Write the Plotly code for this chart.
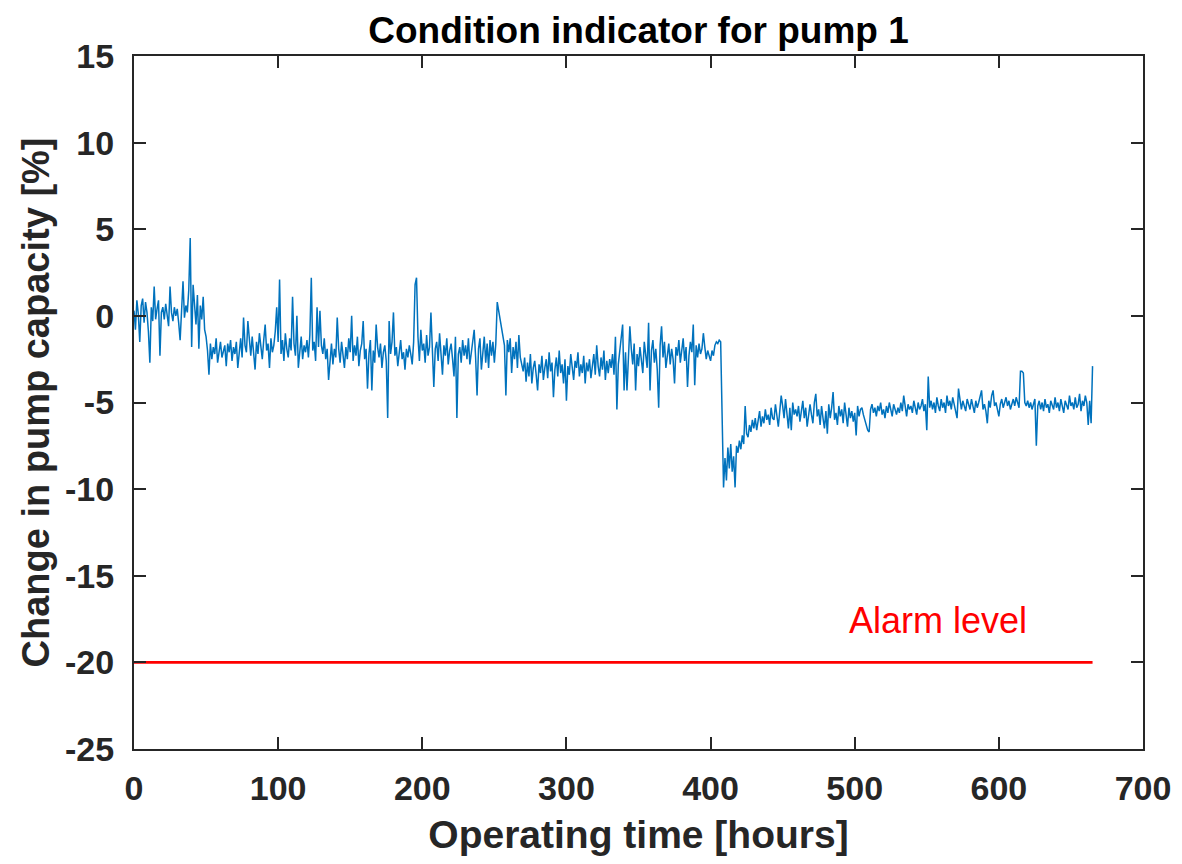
import plotly.graph_objects as go

# Hand-read segments of the condition indicator: (start hour, values at 1-hour steps)
seg1_start = 0
seg1_values = [
    0.3, -0.8, 0.9, 0.1, -1.5, 0.6, 1.0, -0.4, 0.8, 0.2,
    -0.9, -2.7, 0.5, -0.3, 1.7, -0.2, 0.4, 0.9, -2.3, 0.2,
    0.5, -0.2, 0.7, 0.1, -0.6, 1.7, 0.2, -0.3, 0.5, 0.0,
    0.4, -0.4, -1.4, 0.3, 2.0, -0.1, 0.6, 0.2, 1.5, 4.5,
    -1.8, 1.8, 0.3, -0.5, 1.2, -1.9, 0.6, -0.2, 1.1, -0.8,
    -1.2, -2.0, -3.4, -1.6, -2.5, -1.8, -2.2, -1.3, -2.7, -1.9,
    -1.5, -2.4, -2.0, -1.7, -2.9, -1.6, -2.1, -1.4, -2.6, -1.8,
    -2.2, -1.5, -3.0, -1.9, -1.3, -2.4, -0.1, -1.7, -2.1, -0.3,
    -1.6, -2.3, -1.2, -2.0, -3.1, -1.5, -2.2, -1.0, -1.8, -2.5,
    -1.4, -0.5, -2.0, -1.6, -3.0, -1.3, -2.1, -1.7, -0.9, 0.5,
    -1.5, 2.1, -2.2, -1.4, -2.6, -1.0, -1.9, -2.4, -1.3, -2.0,
    1.1, -1.6, -2.3, 0.0, -3.0, -1.8, -1.2, -2.5, -1.7, -2.1,
    -1.4, -2.4, -1.1, 2.2, -2.0, -1.5, -2.6, 0.5, -1.8, 0.3,
    -1.7, -2.2, -1.3, -2.5, -1.9, -3.7, -2.3, -1.6, -2.8, -1.9,
    -2.4, -0.1, -1.9, -2.7, -1.5, -2.2, -3.0, -1.8, -2.5, -1.3,
    -2.1, 0.0, -2.6, -1.7, -2.3, -1.2, -2.9, -2.0, -1.6, -0.3,
    -2.5, -1.9, -4.2, -2.2, -1.4, -4.3, -2.0, -2.7, -0.5, -1.8,
    -2.4, -1.6, -3.0, -2.1, -1.7, -2.6, -5.9, -0.3, -2.2, -1.5,
    0.2, -2.3, -1.8, -2.9, -2.0, -1.4, -2.5, -2.1, -3.1, -1.9,
    -2.4, -1.7, -2.2, -2.8, -1.5, 1.8, 2.2, -1.2, -2.6, -0.8,
    -2.0, -1.6, -2.7, -1.1, -2.3, -1.8, 0.2, -2.4, -4.1, -1.9,
    -1.5, -2.6, -1.0, -2.2, -3.4, -1.7, -2.3, -1.3, -2.8, -2.0,
    -1.6, -2.5, -3.5, -1.2, -5.9, -2.2, -1.8, -2.7, -1.4, -2.3,
    -1.7, -2.5, -1.3, -2.8, -2.0, -1.6, -0.8, -2.4, -4.6, -1.9,
    -1.3, -3.1, -2.0, -1.2, -2.7, -1.6, -3.0, -1.4, -2.3, -1.5,
    -2.7, -1.6, 0.8,
]
seg2_start = 257
seg2_values = [
    -1.7, -4.6, -1.4,
    -2.1, -1.3, -3.3, -1.8, -2.5, -1.5, -3.0, -1.1, -2.4, -2.9,
    -3.2, -2.4, -3.8, -2.7, -3.5, -2.2, -3.9, -3.0, -2.6, -3.4,
    -4.3, -2.8, -3.3, -2.3, -3.7, -3.0, -2.5, -3.6, -2.1, -3.2,
    -2.7, -4.7, -3.1, -2.4, -3.5, -2.0, -3.3, -2.8, -3.9, -2.5,
    -4.9, -2.9, -3.4, -2.2, -3.1, -3.7, -2.6, -3.0, -2.1, -3.5,
    -2.8, -3.3, -2.3, -3.9, -2.7, -3.2, -2.5, -3.6, -2.9, -2.2,
    -3.4, -1.7, -2.9, -3.5, -2.4, -3.1, -2.0, -3.7, -2.6, -3.3,
    -2.5, -3.0, -2.2, -3.4, -1.2, -5.4, -2.8, -2.0, -1.5, -0.5,
    -4.3, -2.1, -4.3, -2.6, -0.6, -1.9, -2.8, -1.6, -4.3, -2.2,
    -2.9, -1.8, -2.5, -3.3, -1.5, -2.2, -3.0, -0.4, -4.3, -2.0,
    -1.4, -2.7, -1.9, -3.1, -5.3, -1.7, -0.6, -2.4, -1.5, -3.0,
    -2.2, -1.6, -2.8, -1.9, -2.5, -3.9, -1.8, -2.3, -1.4, -2.7,
    -2.0, -1.3, -2.6, -1.8, -4.1, -2.3, -1.5, -2.1, -0.5, -4.0,
    -1.7, -2.4, -1.6, -2.2, -1.9, -1.0, -1.8, -2.5, -2.0, -2.3,
    -2.6, -2.0, -2.3, -1.7, -1.5, -1.6, -1.4, -1.5, -5.6, -9.9,
    -8.2, -9.5, -7.6, -8.8, -7.4, -9.0, -8.1, -9.9, -7.5, -7.9,
    -7.2, -7.7, -6.9, -7.4, -5.2, -6.8, -7.0, -6.3, -6.7, -6.0,
    -6.5, -5.9, -6.6, -6.1, -5.5, -6.4, -5.8, -6.2, -5.4, -6.0,
    -5.7, -6.3, -5.3, -5.9, -6.0, -5.1, -5.8, -6.4, -5.5, -4.6,
    -5.2, -5.9, -4.8, -5.6, -6.5, -5.3, -6.6, -5.0, -5.7, -5.4,
    -5.8, -5.2, -6.1, -5.5, -4.9, -5.9, -5.3, -6.4, -5.6, -5.1,
    -5.7, -6.2, -5.0, -4.5, -5.8, -5.4, -6.3, -5.2, -5.9, -6.5,
    -5.5, -6.8, -5.1, -5.9, -5.3, -4.4, -6.0, -5.6, -6.3, -5.2,
    -5.8, -5.4, -6.2, -5.0, -5.7, -6.4, -5.3, -5.9, -5.5, -6.1,
    -5.6, -6.9, -5.2, -5.8, -5.4, -5.3, -5.7, -6.0, -6.3, -6.6,
    -6.7, -5.4, -5.1, -5.6, -5.3, -5.8, -5.2, -5.5, -5.0, -5.7,
    -5.4, -5.9, -5.2, -5.6, -5.0, -5.5, -5.8, -5.1, -5.4, -5.7,
    -5.3, -5.6, -5.0, -5.5, -4.6, -5.3, -5.8, -5.1, -5.4, -5.2,
    -5.6, -4.9, -5.3, -5.7, -5.0, -5.4, -5.2, -4.8, -5.5, -5.1,
    -6.6, -3.5, -5.3, -4.9, -5.4, -5.0, -5.6, -4.7, -5.2, -5.5,
    -4.8, -5.3, -5.0, -5.6, -4.6, -5.2, -4.9, -5.4, -4.7, -5.1,
    -5.3, -5.9, -4.2, -5.0, -5.4, -4.9, -5.2, -5.5, -4.8, -5.1,
    -5.4, -4.8, -5.2, -5.6, -4.9, -5.3, -5.0, -4.6, -4.3, -5.4,
    -5.1, -5.5, -6.2, -4.9, -5.3, -4.6, -4.3, -5.2, -5.0, -5.4,
    -5.8, -5.1, -4.8, -5.3, -5.0, -4.7, -5.2, -4.9, -5.4, -5.1,
    -4.8, -5.2, -4.7, -5.0, -5.3, -3.2, -3.2, -3.3, -5.0, -5.2,
    -4.9, -5.3, -5.0, -5.4, -5.1, -4.8, -7.5, -5.2, -4.9, -5.4,
    -5.0, -5.5, -4.8, -5.3, -5.1, -5.6, -4.9, -5.2, -5.4, -4.7,
    -5.3, -5.0, -5.5, -4.8, -5.2, -5.6, -4.9, -5.1, -5.4, -4.6,
    -5.2, -5.0, -5.4, -4.7, -5.3, -5.1, -4.5, -5.5, -4.9, -5.2,
    -4.6, -5.0, -6.3, -4.9, -6.2, -2.9,
]

alarm_level = -20
alarm_hours = [0, 665]
x_ticks = [0, 100, 200, 300, 400, 500, 600, 700]
y_ticks = [-25, -20, -15, -10, -5, 0, 5, 10, 15]

hours = [seg1_start + i for i in range(len(seg1_values))] + \
        [seg2_start + i for i in range(len(seg2_values))]
capacity = seg1_values + seg2_values

FONT = "Liberation Sans, Arial"
DARK = "#262626"

fig = go.Figure()
fig.add_trace(go.Scatter(x=hours, y=capacity, mode="lines",
                         line=dict(color="#0072BD", width=1.5),
                         showlegend=False, hoverinfo="skip"))
fig.add_trace(go.Scatter(x=alarm_hours, y=[alarm_level, alarm_level], mode="lines",
                         line=dict(color="#FF0000", width=2.6),
                         showlegend=False))
fig.add_annotation(x=558, y=-17.6, text="Alarm level", showarrow=False,
                   font=dict(family=FONT, size=36, color="#FF0000"))

axis_common = dict(showline=True, linecolor=DARK, linewidth=2.2, mirror="ticks",
                   ticks="inside", ticklen=12, tickwidth=2.2, tickcolor=DARK,
                   showgrid=False, zeroline=False, automargin=False,
                   tickfont=dict(family=FONT, size=34, color=DARK))

fig.update_xaxes(range=[0, 700], tickvals=x_ticks,
                 ticktext=[f"<b>{v}</b>" for v in x_ticks],
                 title=dict(text="<b>Operating time [hours]</b>", standoff=24,
                            font=dict(family=FONT, size=39, color=DARK)),
                 ticklabelstandoff=8, **axis_common)
fig.update_yaxes(range=[-25, 15], tickvals=y_ticks,
                 ticktext=[f"<b>{v}</b>" for v in y_ticks],
                 title=dict(text="<b>Change in pump capacity [%]</b>", standoff=4,
                            font=dict(family=FONT, size=38, color=DARK)),
                 ticklabelstandoff=11, **axis_common)

fig.update_layout(
    width=1166, height=848,
    margin=dict(l=126, r=31, t=48, b=107, autoexpand=False),
    paper_bgcolor="white", plot_bgcolor="white",
    title=dict(text="<b>Condition indicator for pump 1</b>", xref="paper", x=0.5,
               xanchor="center", yref="container", y=0.974, yanchor="middle",
               font=dict(family=FONT, size=37, color="black")),
)

fig.write_html("out.html")
